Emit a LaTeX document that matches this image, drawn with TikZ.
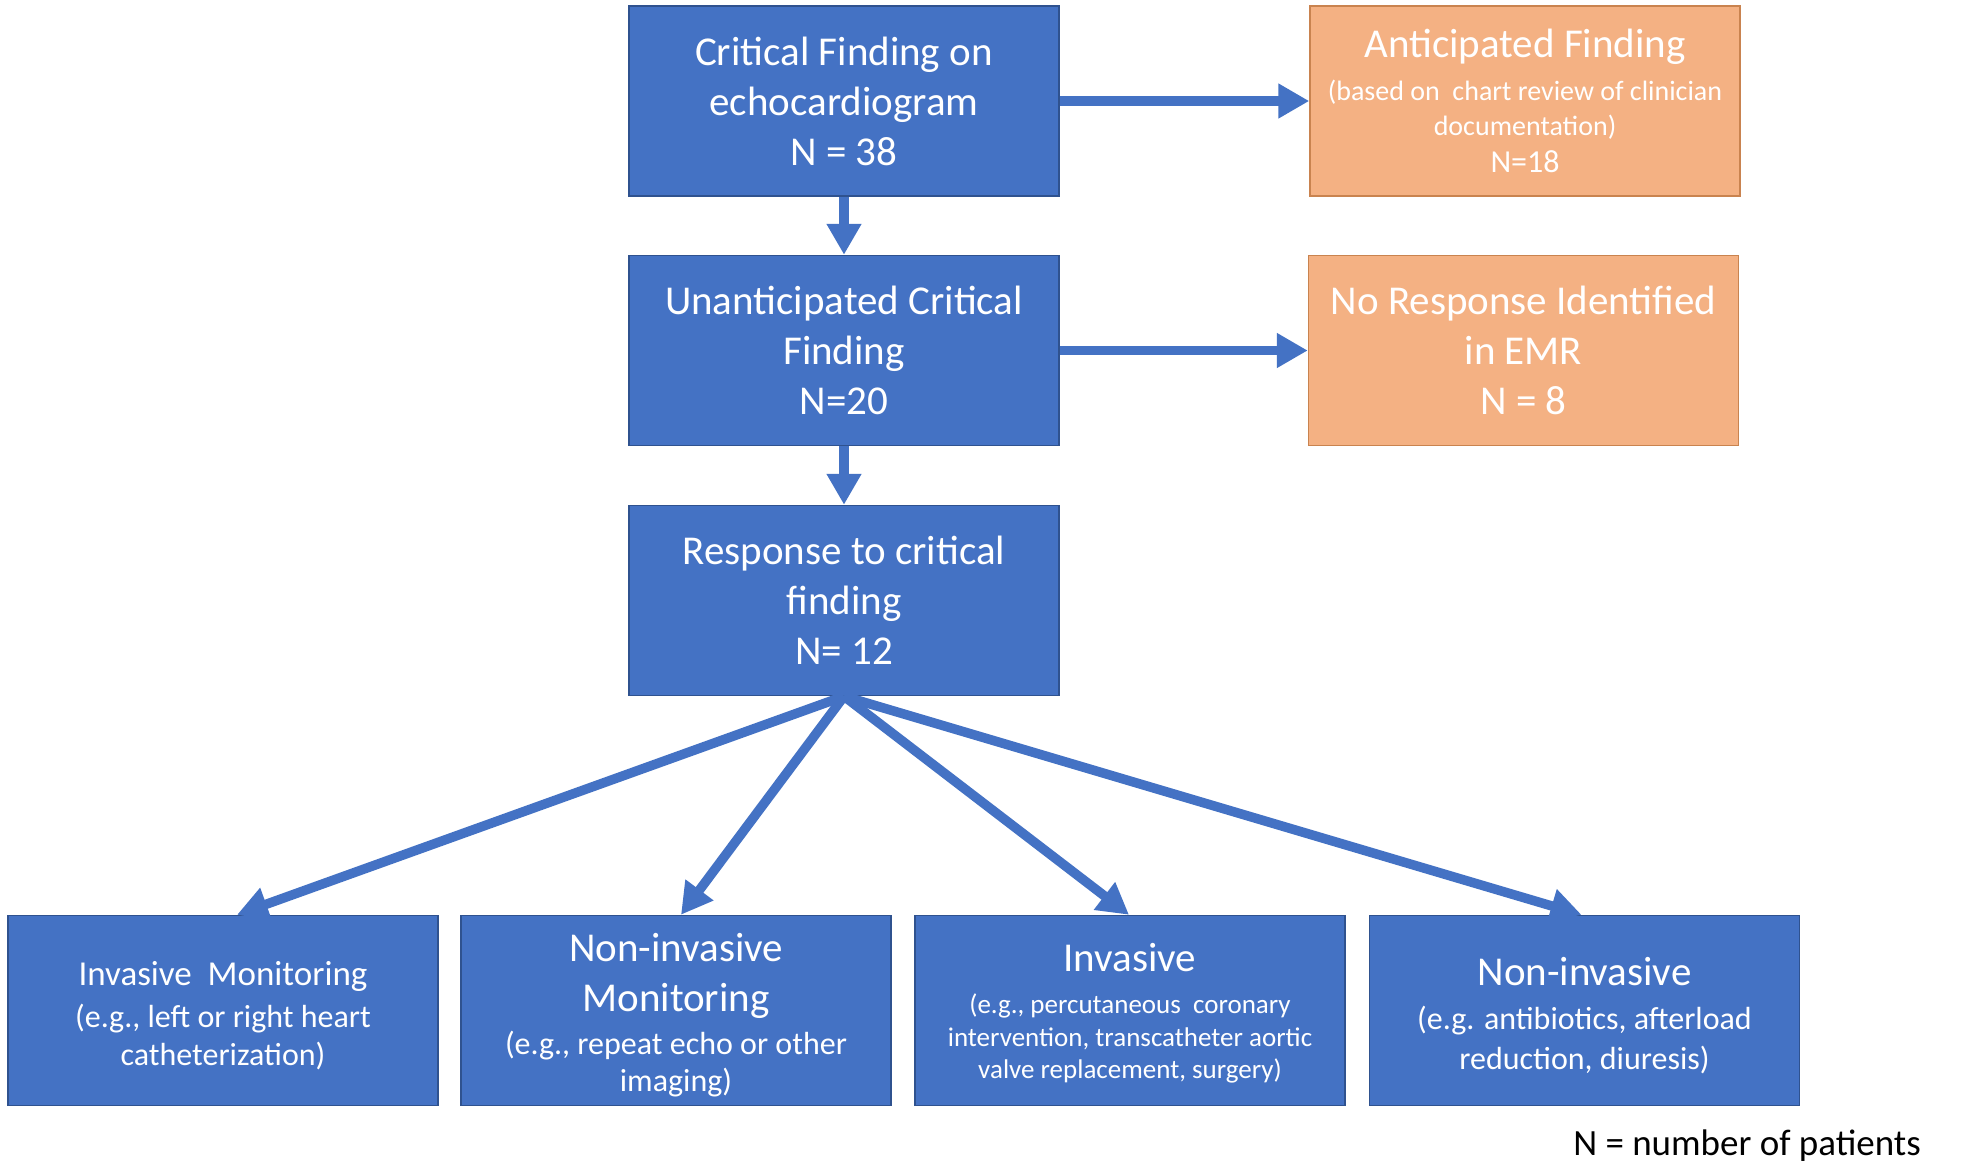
\documentclass[tikz,border=0pt]{standalone}
\usepackage{fontspec}
\setmainfont{Carlito}
\usetikzlibrary{arrows.meta}
\definecolor{cblue}{HTML}{4472C4}
\definecolor{cbluedk}{HTML}{2F528F}
\definecolor{corange}{HTML}{F4B183}
\definecolor{corangedk}{HTML}{C9834F}
\newcommand{\mkline}[3]{{\fontsize{#1}{#2}\selectfont #3\par}}
\newcommand{\mkbox}[2][0pt]{\parbox{425pt}{\centering\vspace*{#1}#2}}
\begin{document}
\begin{tikzpicture}[x=1pt,y=-1pt,
  box/.style={rectangle, line width=1.5pt, minimum width=430pt, minimum height=190pt, inner sep=0pt, text=white},
  bluebox/.style={box, fill=cblue, draw=cbluedk},
  orgbox/.style={box, fill=corange, draw=corangedk},
  conn/.style={draw=cblue, line width=9.5pt, -{Triangle[length=31pt,width=33pt]}}
]
\fill[white] (0,0) rectangle (1961,1171);
\useasboundingbox (0,0) rectangle (1961,1171);

\node[bluebox] (b1) at (844,101) {\mkbox{\mkline{41}{50}{Critical Finding on\\echocardiogram\\N = 38}}};
\node[orgbox] (ant) at (1525,101) {\mkbox{\mkline{41}{50}{Anticipated Finding}%
  \mkline{28}{43}{(based on\ \ chart review of clinician}%
  \mkline{28}{35}{documentation)}%
  \mkline{32}{37}{N=18}}};
\node[bluebox] (b2) at (844,350.5) {\mkbox{\mkline{41}{50}{Unanticipated Critical\\Finding\\N=20}}};
\node[orgbox] (nr) at (1523.5,350.5) {\mkbox{\mkline{41}{50}{No Response Identified\\in EMR\\N = 8}}};
\node[bluebox] (b3) at (844,600.5) {\mkbox{\mkline{41}{50}{Response to critical\\finding\\N= 12}}};

\node[bluebox] (l1) at (223,1010.5) {\mkbox[10pt]{\mkline{35}{42}{Invasive\ \ Monitoring}%
  \mkline{32}{42}{(e.g., left or right heart}%
  \mkline{32}{38}{catheterization)}}};
\node[bluebox] (l2) at (676,1010.5) {\mkbox[10pt]{\mkline{41}{50}{Non-invasive\\Monitoring}%
  \mkline{32}{43}{(e.g., repeat echo or other}%
  \mkline{32}{37}{imaging)}}};
\node[bluebox] (l3) at (1130,1010.5) {\mkbox[6pt]{\mkline{41}{50}{Invasive}%
  \mkline{27}{42}{(e.g., percutaneous\ \ coronary}%
  \mkline{27}{33}{intervention, transcatheter aortic}%
  \mkline{27}{32}{valve replacement, surgery)}}};
\node[bluebox] (l4) at (1584.5,1010.5) {\mkbox[10pt]{\mkline{41}{50}{Non-invasive}%
  \mkline{32}{44}{(e.g. antibiotics, afterload}%
  \mkline{32}{40}{reduction, diuresis)}}};

\node[anchor=east, inner sep=0pt, font=\fontsize{37}{44}\selectfont] (note) at (1921,1146) {N = number of patients};

\draw[conn] (b1.south) -- (b2.north);
\draw[conn] (b2.south) -- (b3.north);
\draw[conn] (b1.east) -- (ant.west);
\draw[conn] (b2.east) -- (nr.west);
\draw[conn] (b3.south) -- ([xshift=14pt]l1.north);
\draw[conn] (b3.south) -- ([xshift=5pt]l2.north);
\draw[conn] (b3.south) -- ([xshift=-1pt]l3.north);
\draw[conn] (b3.south) -- ([xshift=-3pt]l4.north);
\end{tikzpicture}
\end{document}
